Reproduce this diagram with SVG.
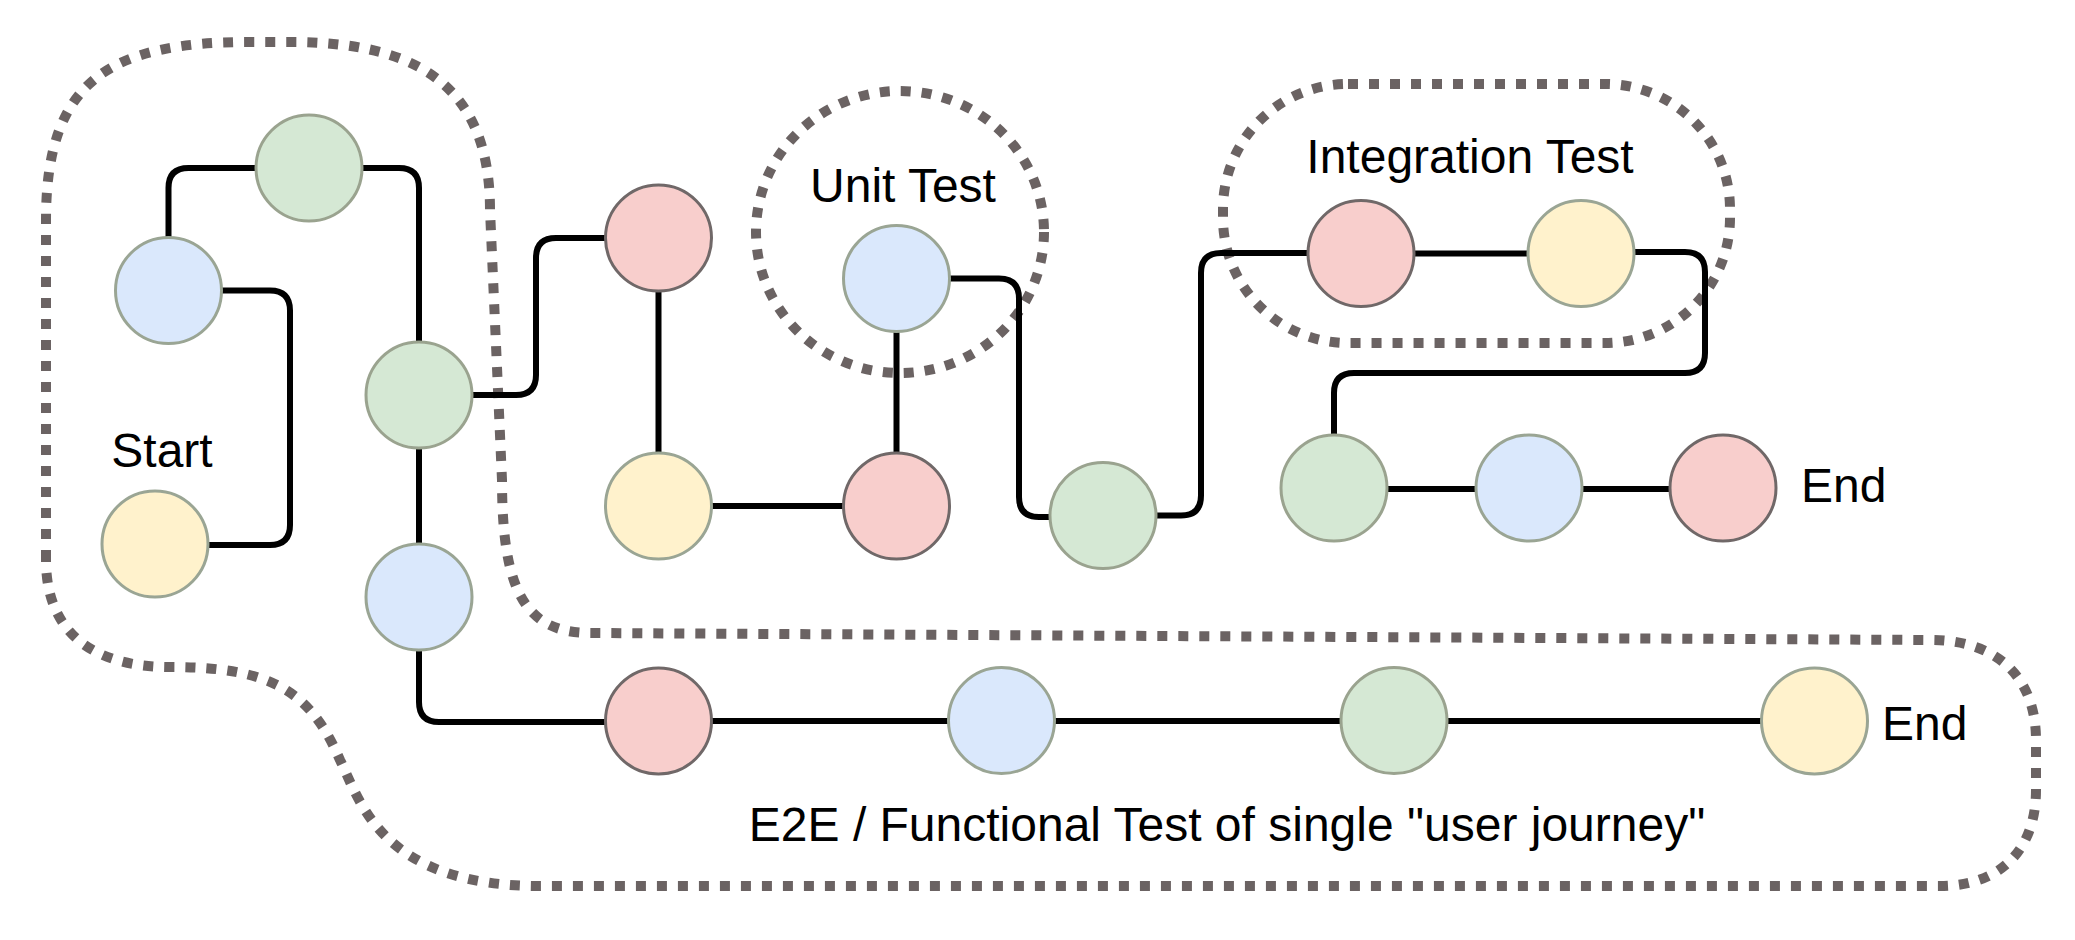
<svg xmlns="http://www.w3.org/2000/svg" width="2075" height="940" viewBox="0 0 2075 940">
<style>
.bnd{fill:none;stroke:#6b6363;stroke-width:10;stroke-dasharray:10 11}
.con{fill:none;stroke:#000;stroke-width:6}
.n{stroke-width:3}
.g{fill:#d5e8d4;stroke:#9aa38f}
.b{fill:#dae8fc;stroke:#9aa594}
.p{fill:#f8cecc;stroke:#706868}
.y{fill:#fff2cc;stroke:#9aa594}
.t{font-family:"Liberation Sans",Arial,sans-serif;font-size:48px;fill:#000}
</style>
<rect width="2075" height="940" fill="#fff"/>
<g id="boundaries">
<path id="e2e-boundary" class="bnd" d="M46,560 L46,220 C46,80 110,42 250,42 L290,42 C410,42 490,80 490,210 L502,480 C502,590 525,633 590,633 L1930,640 C2000,640 2036,680 2036,740 L2036,790 C2036,850 2000,886 1940,886 L540,886 C380,886 360,800 340,760 C310,690 270,667 170,667 C90,667 46,630 46,560 Z"/>
<ellipse id="unit-boundary" class="bnd" cx="900" cy="232" rx="144" ry="141"/>
<rect id="integration-boundary" class="bnd" x="1223" y="84" width="507" height="259" rx="125" ry="125"/>
</g>
<g id="connectors">
<path class="con" d="M168.5,237.5 V188 Q168.5,168 188.5,168 H256"/>
<path class="con" d="M362,168 H399 Q419,168 419,188 V342"/>
<path class="con" d="M221.5,290.5 H270 Q290,290.5 290,310.5 V525 Q290,545 270,545 H208"/>
<path class="con" d="M419,448 V544"/>
<path class="con" d="M419,650 V702 Q419,722 439,722 H605.5"/>
<path class="con" d="M472,395 H516 Q536,395 536,375 V258 Q536,238 556,238 H605.5"/>
<path class="con" d="M658.5,291 V453"/>
<path class="con" d="M711.5,506 H843.5"/>
<path class="con" d="M896.5,331.5 V453"/>
<path class="con" d="M949.5,278.5 H999 Q1019,278.5 1019,298.5 V497 Q1019,517 1039,517 H1050"/>
<path class="con" d="M1156,515.5 H1181 Q1201,515.5 1201,495.5 V273 Q1201,253 1221,253 H1308"/>
<path class="con" d="M1414,253.5 H1528"/>
<path class="con" d="M1634,252 H1685 Q1705,252 1705,272 V353 Q1705,373 1685,373 H1354 Q1334,373 1334,393 V435"/>
<path class="con" d="M1387,489 H1476"/>
<path class="con" d="M1582,489 H1670"/>
<path class="con" d="M711.5,721 H948.5"/>
<path class="con" d="M1054.5,721 H1341"/>
<path class="con" d="M1447,721 H1761.5"/>
</g>
<g id="n-green-top"><circle class="n g" cx="309" cy="168" r="53"/></g>
<g id="n-blue-1"><circle class="n b" cx="168.5" cy="290.5" r="53"/></g>
<g id="n-start"><circle class="n y" cx="155" cy="544" r="53"/></g>
<g id="n-green-mid"><circle class="n g" cx="419" cy="395" r="53"/></g>
<g id="n-blue-2"><circle class="n b" cx="419" cy="597" r="53"/></g>
<g id="n-pink-top"><circle class="n p" cx="658.5" cy="238" r="53"/></g>
<g id="n-yellow-2"><circle class="n y" cx="658.5" cy="506" r="53"/></g>
<g id="n-unit-blue"><circle class="n b" cx="896.5" cy="278.5" r="53"/></g>
<g id="n-unit-pink"><circle class="n p" cx="896.5" cy="506" r="53"/></g>
<g id="n-green-3"><circle class="n g" cx="1103" cy="515.5" r="53"/></g>
<g id="n-int-pink"><circle class="n p" cx="1361" cy="253.5" r="53"/></g>
<g id="n-int-yellow"><circle class="n y" cx="1581" cy="253.5" r="53"/></g>
<g id="n-green-4"><circle class="n g" cx="1334" cy="488" r="53"/></g>
<g id="n-blue-4"><circle class="n b" cx="1529" cy="488" r="53"/></g>
<g id="n-end-pink"><circle class="n p" cx="1723" cy="488" r="53"/></g>
<g id="n-e2e-pink"><circle class="n p" cx="658.5" cy="721" r="53"/></g>
<g id="n-e2e-blue"><circle class="n b" cx="1001.5" cy="720.5" r="53"/></g>
<g id="n-e2e-green"><circle class="n g" cx="1394" cy="720.5" r="53"/></g>
<g id="n-e2e-end"><circle class="n y" cx="1814.5" cy="721" r="53"/></g>
<g id="labels">
<text class="t" x="162" y="467" text-anchor="middle">Start</text>
<text class="t" x="903" y="202" text-anchor="middle">Unit Test</text>
<text class="t" x="1470" y="173" text-anchor="middle">Integration Test</text>
<text class="t" x="1801" y="502">End</text>
<text class="t" x="1882" y="740">End</text>
<text class="t" x="1227" y="841" text-anchor="middle">E2E / Functional Test of single "user journey"</text>
</g>
</svg>
